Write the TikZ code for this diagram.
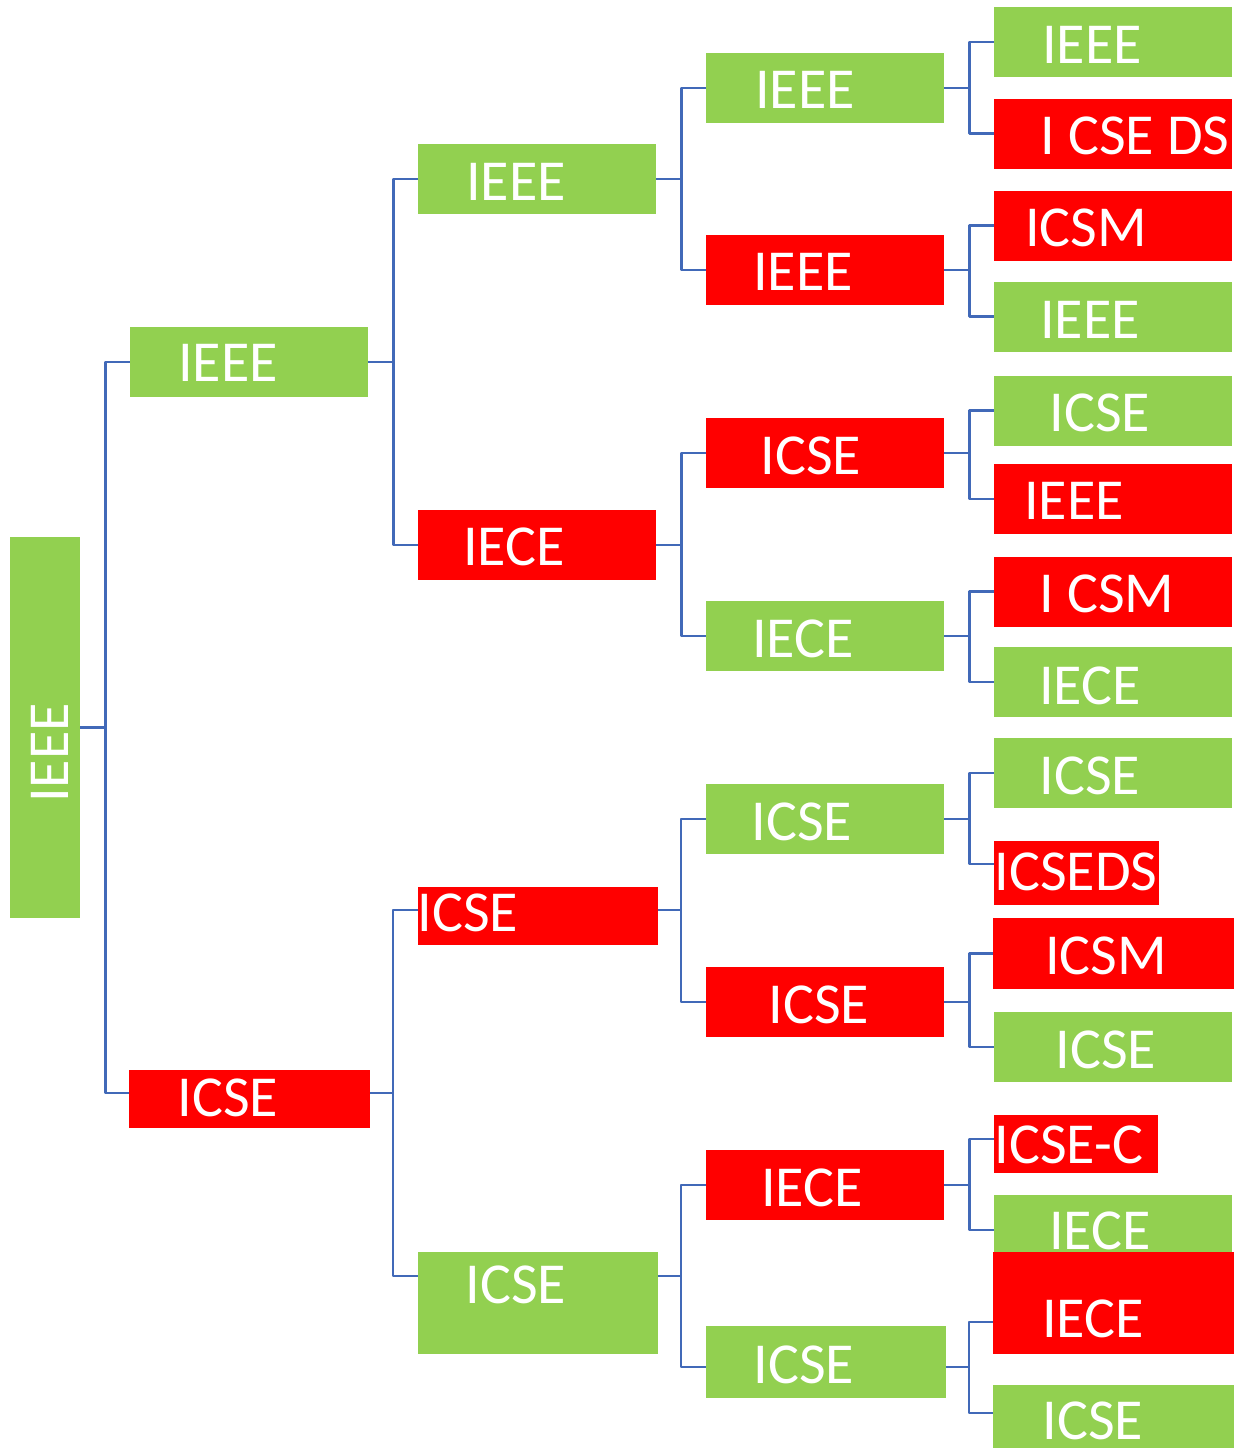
\documentclass[tikz,border=0pt]{standalone}
\usepackage{fontspec}
\setmainfont{Carlito}
\definecolor{leafgreen}{HTML}{92D050}
\definecolor{hotred}{HTML}{FF0000}
\definecolor{linkblue}{HTML}{4169B8}
\tikzset{
  gbox/.style={fill=leafgreen, inner sep=0, minimum width=238, minimum height=70},
  rbox/.style={fill=hotred, inner sep=0, minimum width=238, minimum height=70},
  txt/.style={text=white, inner sep=0, font=\fontsize{58}{60}\selectfont},
  link/.style={draw=linkblue, line width=2.8pt}
}
\begin{document}
\begin{tikzpicture}[x=1pt, y=-1pt, line join=round]
	\useasboundingbox (0,0) rectangle (1245,1448);
	% Gốc
	\node[gbox, minimum width=70, minimum height=381] (n) at (45,727.5) {};
	\node[txt, rotate=90] (nt) at (50,753) {IEEE};
	% Mức 1
	\node[gbox] (n1) at (249,362) {};
	\node[txt] (n1t) at (228,363) {IEEE};
	\node[rbox, minimum width=241, minimum height=58] (n2) at (249.5,1099) {};
	\node[txt] (n2t) at (228,1098) {ICSE};
	% Mức 2
	\node[gbox] (n11) at (537,179) {};
	\node[txt] (n11t) at (516,182) {IEEE};
	\node[rbox] (n12) at (537,545) {};
	\node[txt] (n12t) at (514,547) {IECE};
	\node[rbox, minimum width=240, minimum height=58] (n21) at (538,916) {};
	\node[txt] (n21t) at (468,913) {ICSE};
	\node[gbox, minimum width=240, minimum height=102] (n22) at (538,1303) {};
	\node[txt] (n22t) at (516,1285) {ICSE};
	% Mức 3
	\node[gbox] (n111) at (825,88) {};
	\node[txt] (n111t) at (805,90) {IEEE};
	\node[rbox] (n112) at (825,270) {};
	\node[txt] (n112t) at (803,272) {IEEE};
	\node[rbox] (n121) at (825,453) {};
	\node[txt] (n121t) at (811,456) {ICSE};
	\node[gbox] (n122) at (825,636) {};
	\node[txt] (n122t) at (803,639) {IECE};
	\node[gbox] (n211) at (825,819) {};
	\node[txt] (n211t) at (802,822) {ICSE};
	\node[rbox] (n212) at (825,1002) {};
	\node[txt] (n212t) at (819,1005) {ICSE};
	\node[rbox] (n221) at (825,1185) {};
	\node[txt] (n221t) at (812,1188) {IECE};
	\node[gbox, minimum width=240, minimum height=72] (n222) at (826,1362) {};
	\node[txt] (n222t) at (804,1365) {ICSE};
	% Mức 4
	\node[gbox] (n1111) at (1113,42) {};
	\node[txt] (n1111t) at (1092,45) {IEEE};
	\node[rbox] (n1112) at (1113,133.5) {};
	\node[txt] (n1112t) at (1135,136) {I CSE DS};
	\node[rbox] (n1121) at (1113,225.5) {};
	\node[txt] (n1121t) at (1086,228) {ICSM};
	\node[gbox] (n1122) at (1113,316.5) {};
	\node[txt] (n1122t) at (1090,320) {IEEE};
	\node[gbox] (n1211) at (1113,410.5) {};
	\node[txt] (n1211t) at (1100,413) {ICSE};
	\node[rbox] (n1212) at (1113,499) {};
	\node[txt] (n1212t) at (1074,501) {IEEE};
	\node[rbox] (n1221) at (1113,591.5) {};
	\node[txt] (n1221t) at (1107,594) {I CSM};
	\node[gbox] (n1222) at (1113,682) {};
	\node[txt] (n1222t) at (1090,686) {IECE};
	\node[gbox] (n2111) at (1113,773) {};
	\node[txt] (n2111t) at (1090,776) {ICSE};
	\node[rbox, minimum width=165, minimum height=64] (n2112) at (1076.5,873) {};
	\node[txt] (n2112t) at (1076,872) {ICSEDS};
	\node[rbox, minimum width=241, minimum height=71] (n2121) at (1113.5,953.5) {};
	\node[txt] (n2121t) at (1106,956) {ICSM};
	\node[gbox] (n2122) at (1113,1047) {};
	\node[txt] (n2122t) at (1106,1050) {ICSE};
	\node[rbox, minimum width=164, minimum height=58] (n2211) at (1076,1144) {};
	\node[txt] (n2211t) at (1069,1145) {ICSE-C};
	\node[gbox] (n2212) at (1113,1230) {};
	\node[txt] (n2212t) at (1100,1231) {IECE};
	\node[rbox, minimum width=241, minimum height=102] (n2221) at (1113.5,1303) {};
	\node[txt] (n2221t) at (1093,1319) {IECE};
	\node[gbox, minimum width=241, minimum height=63] (n2222) at (1113.5,1416.5) {};
	\node[txt] (n2222t) at (1093,1421) {ICSE};
	% Điểm nối lệch tâm
	\coordinate (n2i) at (129,1093);
	\coordinate (n2o) at (370,1093);
	\coordinate (n21i) at (418,910);
	\coordinate (n21o) at (658,910);
	\coordinate (n22i) at (418,1276);
	\coordinate (n22o) at (658,1276);
	\coordinate (n222i) at (706,1367);
	\coordinate (n222o) at (946,1367);
	\coordinate (n2112i) at (994,864);
	\coordinate (n2211i) at (994,1139);
	\coordinate (n2221i) at (993,1322);
	\coordinate (n2222i) at (993,1413);
	% Đường nối
	\draw[link] (n.east) -- ++(25,0) |- (n1.west);
	\draw[link] (n.east) -- ++(25,0) |- (n2i);
	\draw[link] (n1.east) -- ++(25,0) |- (n11.west);
	\draw[link] (n1.east) -- ++(25,0) |- (n12.west);
	\draw[link] (n2o) -- ++(23,0) |- (n21i);
	\draw[link] (n2o) -- ++(23,0) |- (n22i);
	\draw[link] (n11.east) -- ++(25,0) |- (n111.west);
	\draw[link] (n11.east) -- ++(25,0) |- (n112.west);
	\draw[link] (n12.east) -- ++(25,0) |- (n121.west);
	\draw[link] (n12.east) -- ++(25,0) |- (n122.west);
	\draw[link] (n21o) -- ++(23,0) |- (n211.west);
	\draw[link] (n21o) -- ++(23,0) |- (n212.west);
	\draw[link] (n22o) -- ++(23,0) |- (n221.west);
	\draw[link] (n22o) -- ++(23,0) |- (n222i);
	\draw[link] (n111.east) -- ++(25,0) |- (n1111.west);
	\draw[link] (n111.east) -- ++(25,0) |- (n1112.west);
	\draw[link] (n112.east) -- ++(25,0) |- (n1121.west);
	\draw[link] (n112.east) -- ++(25,0) |- (n1122.west);
	\draw[link] (n121.east) -- ++(25,0) |- (n1211.west);
	\draw[link] (n121.east) -- ++(25,0) |- (n1212.west);
	\draw[link] (n122.east) -- ++(25,0) |- (n1221.west);
	\draw[link] (n122.east) -- ++(25,0) |- (n1222.west);
	\draw[link] (n211.east) -- ++(25,0) |- (n2111.west);
	\draw[link] (n211.east) -- ++(25,0) |- (n2112i);
	\draw[link] (n212.east) -- ++(25,0) |- (n2121.west);
	\draw[link] (n212.east) -- ++(25,0) |- (n2122.west);
	\draw[link] (n221.east) -- ++(25,0) |- (n2211i);
	\draw[link] (n221.east) -- ++(25,0) |- (n2212.west);
	\draw[link] (n222o) -- ++(23,0) |- (n2221i);
	\draw[link] (n222o) -- ++(23,0) |- (n2222i);
\end{tikzpicture}
\end{document}
